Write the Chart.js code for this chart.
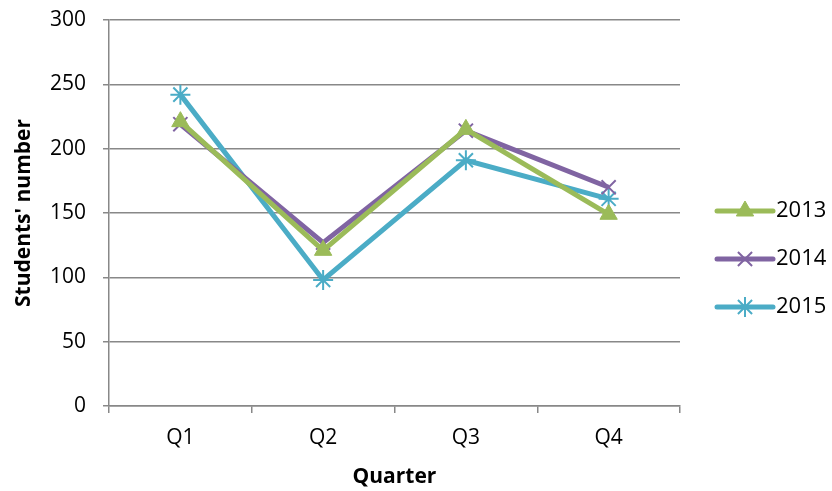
<!DOCTYPE html>
<html>
<head>
<meta charset="utf-8">
<script src="https://cdn.jsdelivr.net/npm/chart.js@4/dist/chart.umd.min.js"></script>
<style>
  html, body { margin: 0; padding: 0; background: #ffffff; }
  #wrap { width: 832px; height: 491px; }
</style>
</head>
<body>
<div id="wrap"><canvas id="c" width="832" height="491"></canvas></div>
<script>
// Quarterly student counts per year
const quarters = ['Q1', 'Q2', 'Q3', 'Q4'];
const years = ['2013', '2014', '2015'];
const students2013 = [221, 121, 215, 149];
const students2014 = [219, 127, 214, 170];
const students2015 = [242, 98, 191, 161];
const yTicks = [0, 50, 100, 150, 200, 250, 300];

const FONT = '"Open Sans", sans-serif';
const GRID = '#888888';

const seriesStyle = [
  { color: '#9BBB59', point: 'triangle', radius: 10, bw: 1 },
  { color: '#8064A2', point: 'crossRot', radius: 10, bw: 2 },
  { color: '#4BACC6', point: 'star', radius: 10, bw: 2 }
];
const seriesValues = [students2013, students2014, students2015];

const datasets = years.map((y, i) => ({
  label: y,
  data: seriesValues[i],
  borderColor: seriesStyle[i].color,
  backgroundColor: seriesStyle[i].color,
  borderWidth: 5,
  tension: 0,
  pointStyle: seriesStyle[i].point,
  pointRadius: seriesStyle[i].radius,
  pointBorderWidth: seriesStyle[i].bw,
  pointBorderColor: seriesStyle[i].color,
  pointBackgroundColor: seriesStyle[i].color
}));

// Legend on the right: a short line with the series marker, then the year
const sideLegend = {
  id: 'sideLegend',
  afterDraw(chart) {
    const ctx = chart.ctx;
    const x0 = 717, x1 = 773;
    const rows = [211, 259, 307];
    chart.data.datasets.forEach((ds, i) => {
      const y = rows[i];
      ctx.save();
      ctx.strokeStyle = ds.borderColor;
      ctx.fillStyle = ds.borderColor;
      ctx.lineWidth = 5;
      ctx.lineCap = 'round';
      ctx.beginPath();
      ctx.moveTo(x0, y);
      ctx.lineTo(x1, y);
      ctx.stroke();
      ctx.lineCap = 'butt';
      ctx.lineWidth = ds.pointBorderWidth;
      Chart.helpers.drawPoint(ctx, {
        pointStyle: ds.pointStyle,
        radius: ds.pointRadius,
        borderWidth: ds.pointBorderWidth,
        rotation: 0
      }, (x0 + x1) / 2, y);
      ctx.fillStyle = '#000000';
      ctx.font = '22px ' + FONT;
      ctx.textBaseline = 'middle';
      ctx.textAlign = 'left';
      ctx.fillText(ds.label, 776, y);
      ctx.restore();
    });
  }
};

new Chart(document.getElementById('c'), {
  type: 'line',
  data: { labels: quarters, datasets },
  plugins: [sideLegend],
  options: {
    responsive: false,
    animation: false,
    layout: { padding: { left: 0, right: 152, top: 0, bottom: 0 } },
    plugins: {
      legend: { display: false },
      tooltip: { enabled: false }
    },
    scales: {
      x: {
        offset: true,
        afterFit(axis) { axis.height = 85; },
        grid: {
          offset: true,
          drawOnChartArea: false,
          drawTicks: true,
          tickLength: 7,
          color: GRID,
          lineWidth: 1.5
        },
        border: { display: true, color: GRID, width: 1.5 },
        ticks: { color: '#000', font: { family: FONT, size: 21 }, padding: 12 },
        title: {
          display: true,
          text: 'Quarter',
          color: '#000',
          font: { family: FONT, size: 21, weight: 'bold' },
          padding: { top: 0, bottom: 1 }
        }
      },
      y: {
        min: 0,
        max: 300,
        afterFit(axis) { axis.width = 109; axis.paddingTop = 20; },
        afterBuildTicks(axis) { axis.ticks = yTicks.map(v => ({ value: v })); },
        grid: {
          color: GRID,
          lineWidth: 1.5,
          drawTicks: true,
          tickLength: 6
        },
        border: { display: true, color: GRID, width: 1.5 },
        ticks: { color: '#000', font: { family: FONT, size: 21 }, padding: 17 },
        title: {
          display: true,
          text: "Students' number",
          color: '#000',
          font: { family: FONT, size: 21, weight: 'bold' },
          padding: { top: 11, bottom: 0 }
        }
      }
    }
  }
});
</script>
</body>
</html>
